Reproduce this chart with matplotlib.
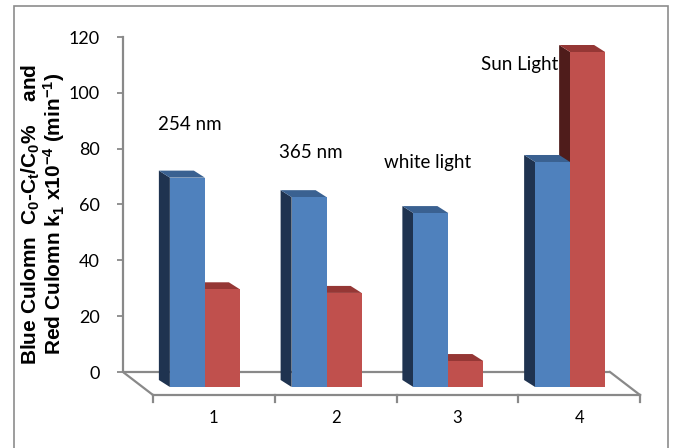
import matplotlib
matplotlib.use('Agg')
import matplotlib.pyplot as plt
from matplotlib.patches import Polygon, Rectangle

plt.rcParams['font.family'] = ['Lato', 'DejaVu Sans']
plt.rcParams['mathtext.fontset'] = 'custom'
plt.rcParams['mathtext.rm'] = 'Liberation Sans:bold'
plt.rcParams['mathtext.it'] = 'Liberation Sans:bold'
plt.rcParams['mathtext.bf'] = 'Liberation Sans:bold'

# data
categories = ['1', '2', '3', '4']
blue_values = [75, 68, 62.3, 80.6]      # C0-Ct/C0 %
red_values = [35, 33.7, 9.3, 120]       # k1 x10^-4 (min^-1)
light_labels = ['254 nm', '365 nm', 'white light', 'Sun Light']
yticks = [0, 20, 40, 60, 80, 100, 120]

# label anchor points (left edge, centre) in data units
label_pos = [(-0.21, 88.5), (0.78, 78.8), (1.64, 75.0), (2.44, 110.0)]

W, H = 673, 448
fig = plt.figure(figsize=(W / 100, H / 100), dpi=100)

# pixel geometry of the back wall
wall_x0, wall_x1 = 123, 610          # x of category -0.5 and 3.5
y_zero, y_top = 372, 37               # pixel rows of 0 and 120
ppx = (wall_x1 - wall_x0) / 4.0
ppy = (y_zero - y_top) / 120.0

xlim = (-0.5, 3.85)
ylim = (-15, 125)
ax_left = wall_x0
ax_w = (xlim[1] - xlim[0]) * ppx
ax_bottom_row = y_zero + (0 - ylim[0]) * ppy
ax_h = (ylim[1] - ylim[0]) * ppy
ax = fig.add_axes([ax_left / W, 1 - ax_bottom_row / H, ax_w / W, ax_h / H])
ax.set_xlim(*xlim)
ax.set_ylim(*ylim)
ax.patch.set_visible(False)


def px(dx, dy):
    # pixel shift (right, down) -> data shift
    return dx / ppx, -dy / ppy


# depth offsets
fdx, fdy = px(21, 15)     # bar front face
bdx, bdy = px(10, 8)      # bar back face
gdx, gdy = px(30, 23)     # front edge of the floor
bw = 35 / ppx             # bar width

GRAY = '#898989'

# floor outline
ax.plot([-0.5, 3.5], [0, 0], color=GRAY, lw=1.6, zorder=1, solid_capstyle='butt')
ax.plot([-0.5, -0.5 + gdx], [0, gdy], color=GRAY, lw=1.6, zorder=1)
ax.plot([3.5, 3.5 + gdx], [0, gdy], color=GRAY, lw=1.6, zorder=1)
ax.plot([-0.5 + gdx, 3.5 + gdx], [gdy, gdy], color=GRAY, lw=1.6, zorder=1,
        clip_on=False)
tick_dy = px(0, 7)[1]
for k in range(5):
    xk = -0.5 + k + gdx
    ax.plot([xk, xk], [gdy, gdy + tick_dy], color=GRAY, lw=1.6, zorder=1,
            clip_on=False)

for i, cat in enumerate(categories):
    ax.text(i + gdx, gdy + px(0, 23)[1], cat, ha='center', va='center',
            fontsize=12, color='black', clip_on=False)


def draw_bar(xl, v, front, top, side, z):
    side_pts = [(xl + fdx, fdy), (xl + fdx, v + fdy), (xl + bdx, v + bdy), (xl + bdx, bdy)]
    top_pts = [(xl + fdx, v + fdy), (xl + bw + fdx, v + fdy),
               (xl + bw + bdx, v + bdy), (xl + bdx, v + bdy)]
    ax.add_patch(Polygon(side_pts, closed=True, facecolor=side, lw=0, zorder=z))
    ax.add_patch(Polygon(top_pts, closed=True, facecolor=top, lw=0, zorder=z + 0.1))
    ax.bar(xl + fdx, v, bw, bottom=fdy, align='edge', color=front, lw=0,
           zorder=z + 0.2)


for i in range(len(categories)):
    draw_bar(i, red_values[i], '#C0504D', '#953735', '#4F1C1B', 2)
    draw_bar(i - bw, blue_values[i], '#4F81BD', '#3A6191', '#1F3350', 3)

for (lx, ly), txt in zip(label_pos, light_labels):
    ax.text(lx, ly, txt, ha='left', va='center', fontsize=13.5, zorder=6)

# back-wall value axis
for s in ['top', 'right', 'bottom']:
    ax.spines[s].set_visible(False)
ax.spines['left'].set_bounds(0, 120)
ax.spines['left'].set_color(GRAY)
ax.spines['left'].set_linewidth(1.6)
ax.set_yticks(yticks)
ax.set_yticklabels([str(t) for t in yticks])
ax.tick_params(axis='y', length=4.5, width=1.3, color=GRAY, pad=12,
               labelsize=13)
ax.set_xticks([])

fig.text(43 / W, 1 - 214 / H,
         'Blue Culomn  C$_0$-C$_t$/C$_0$%    and\n'
         'Red Culomn k$_1$ x10$^{-4}$ (min$^{-1}$)',
         rotation=90, ha='center', va='center', multialignment='center',
         fontsize=15, fontweight='bold', family='Liberation Sans',
         linespacing=0.95)

# chart area border
fig.patches.append(Rectangle((14 / W, -0.05), (668 - 14) / W, 1.05 - 6 / H,
                             transform=fig.transFigure, fill=False,
                             edgecolor='#8C8C8C', lw=1.2))

fig.savefig('out.png', dpi=100, facecolor='white')
